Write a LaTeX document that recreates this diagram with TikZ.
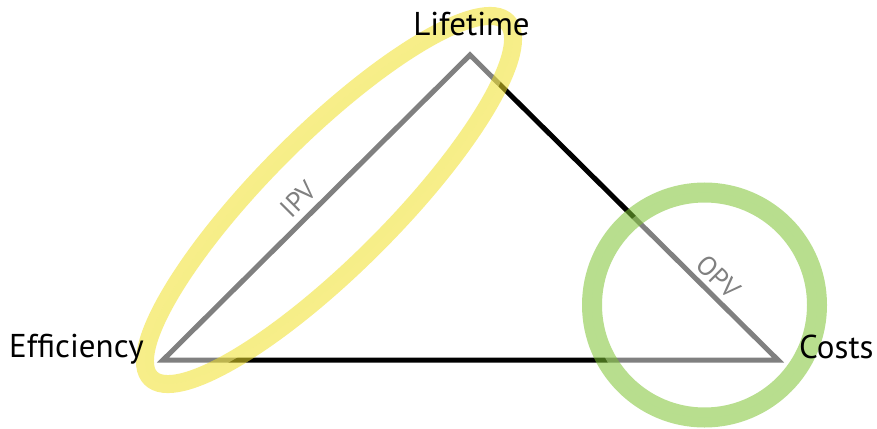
\documentclass[tikz,border=0pt]{standalone}
\usepackage{fontspec}
\setmainfont{PT Sans}
\usetikzlibrary{shapes.geometric}
\definecolor{ringyellow}{RGB}{240,224,40}
\definecolor{ringgreen}{RGB}{125,195,50}
\tikzset{
  edge/.style={draw=black, line width=5pt, line join=miter},
  vlabel/.style={font=\fontsize{33}{38}\selectfont, inner sep=0pt},
  elabel/.style={font=\fontsize{27}{31}\selectfont, inner sep=0pt, text=black},
  ring/.style={fill=white, fill opacity=0.5, draw opacity=0.55, inner sep=0pt, outer sep=0pt},
}
\begin{document}
\begin{tikzpicture}[x=1pt, y=-1pt]
\useasboundingbox (0,0) rectangle (877,428);
\coordinate (L) at (470,55);
\coordinate (E) at (163,360);
\coordinate (C) at (778,360);
\draw[edge] (E) -- (L) -- (C) -- cycle;
\node[elabel, rotate=45, anchor=base] (ipv) at (305,206) {IPV};
\node[elabel, rotate=-45, anchor=base] (opv) at (712,283.5) {OPV};
\node[ring, ellipse, draw=ringyellow, line width=18pt, rotate=45,
      minimum width=504pt, minimum height=130pt] (ipvring) at (329,200) {};
\node[ring, circle, draw=ringgreen, line width=20pt,
      minimum size=225pt] (opvring) at (704.5,305) {};
\node[vlabel, anchor=base] (lifetime) at (471.5,36) {Lifetime};
\node[vlabel, anchor=base west] (eff) at (9,357) {Efficiency};
\node[vlabel, anchor=base west] (costs) at (799,358) {Costs};
\end{tikzpicture}
\end{document}
